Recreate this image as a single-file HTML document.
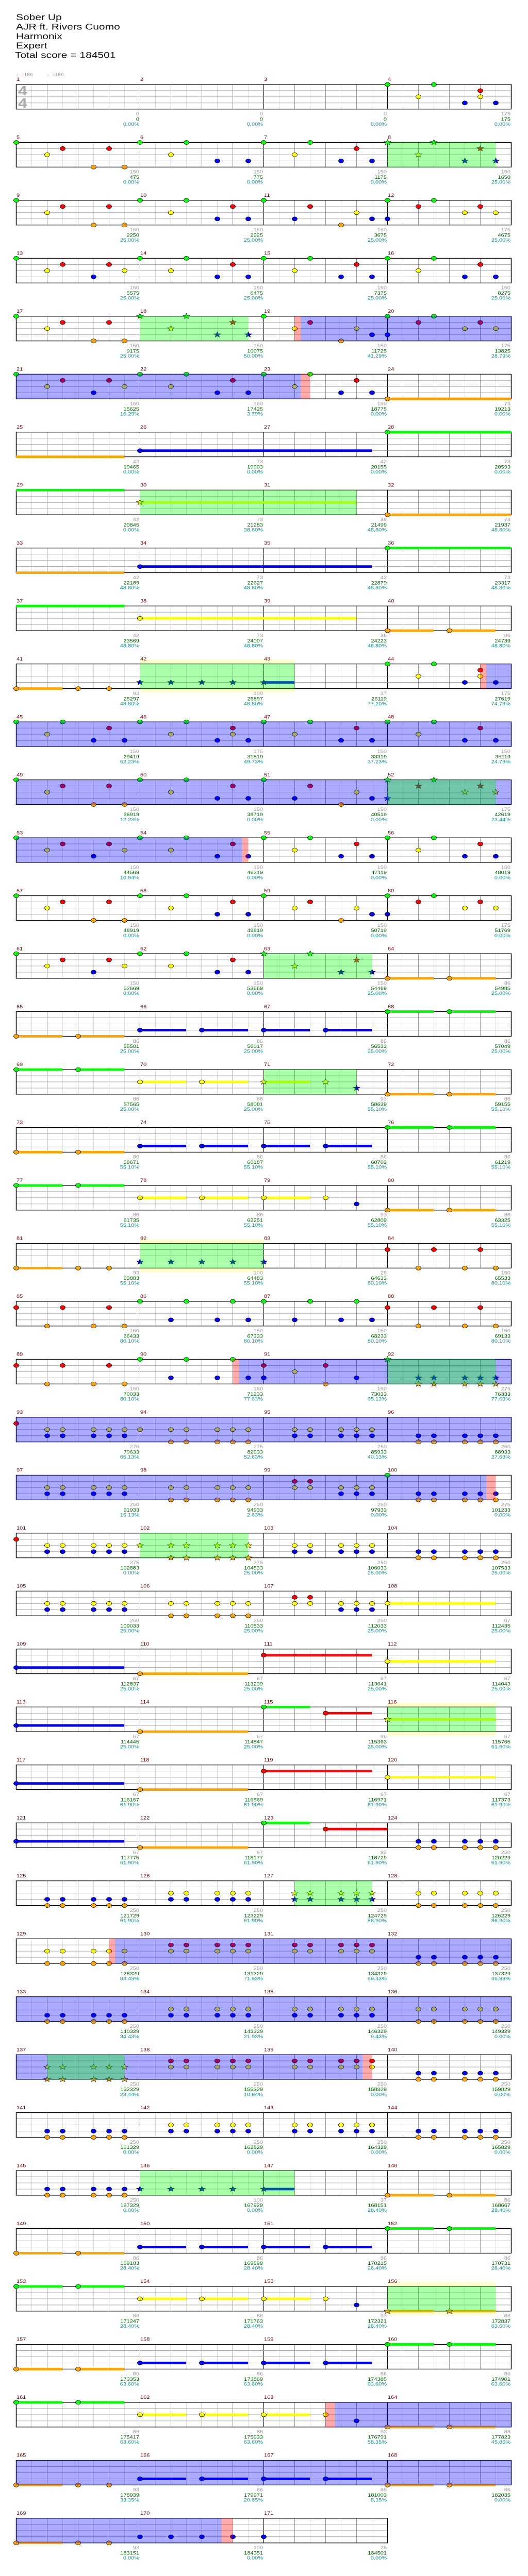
<!DOCTYPE html>
<html><head><meta charset="utf-8"><style>
html,body{margin:0;padding:0;background:#fff;width:100%;height:100%;overflow:hidden}
svg{position:absolute;left:0;top:0;width:100vw;height:100vh;display:block}
text{font-family:"Liberation Sans",sans-serif;font-size:11px}
.n{fill:#800000}.a{fill:#999;text-anchor:end}.b{fill:#006400;text-anchor:end}.c{fill:#009999;text-anchor:end}
.h{font-size:21px;fill:#111}
</style></head><body>
<svg id="s" xmlns="http://www.w3.org/2000/svg" viewBox="0 0 1024 6268" preserveAspectRatio="none">
<rect width="1024" height="6268" fill="#fff"/>
<text class="h" x="31" y="49">Sober Up</text>
<text class="h" x="31" y="72">AJR ft. Rivers Cuomo</text>
<text class="h" x="31" y="95">Harmonix</text>
<text class="h" x="31" y="118">Expert</text>
<text class="h" x="29" y="141">Total score = 184501</text>
<text x="31" y="185" style="fill:#999;font-size:10px">♩=186</text>
<text x="91" y="185" style="fill:#999;font-size:10px">♩=186</text>
<g id="shapes"></g>
<text x="35" y="232" style="fill:#aaa;font-size:32px;font-weight:bold">4</text>
<text x="35" y="262" style="fill:#aaa;font-size:32px;font-weight:bold">4</text>
<g transform="translate(0,205)"><text class="n" x="32" y="-8">1</text><text class="n" x="272" y="-8">2</text><text class="n" x="512" y="-8">3</text><text class="n" x="752" y="-8">4</text><text class="a" x="270" y="76">0</text><text class="b" x="270" y="89">0</text><text class="c" x="270" y="101">0.00%</text><text class="a" x="510" y="76">0</text><text class="b" x="510" y="89">0</text><text class="c" x="510" y="101">0.00%</text><text class="a" x="750" y="76">0</text><text class="b" x="750" y="89">0</text><text class="c" x="750" y="101">0.00%</text><text class="a" x="990" y="76">175</text><text class="b" x="990" y="89">175</text><text class="c" x="990" y="101">0.00%</text></g>
<g transform="translate(0,346)"><text class="n" x="32" y="-8">5</text><text class="n" x="272" y="-8">6</text><text class="n" x="512" y="-8">7</text><text class="n" x="752" y="-8">8</text><text class="a" x="270" y="76">150</text><text class="b" x="270" y="89">475</text><text class="c" x="270" y="101">0.00%</text><text class="a" x="510" y="76">150</text><text class="b" x="510" y="89">775</text><text class="c" x="510" y="101">0.00%</text><text class="a" x="750" y="76">150</text><text class="b" x="750" y="89">1175</text><text class="c" x="750" y="101">0.00%</text><text class="a" x="990" y="76">150</text><text class="b" x="990" y="89">1650</text><text class="c" x="990" y="101">25.00%</text></g>
<g transform="translate(0,487)"><text class="n" x="32" y="-8">9</text><text class="n" x="272" y="-8">10</text><text class="n" x="512" y="-8">11</text><text class="n" x="752" y="-8">12</text><text class="a" x="270" y="76">150</text><text class="b" x="270" y="89">2250</text><text class="c" x="270" y="101">25.00%</text><text class="a" x="510" y="76">150</text><text class="b" x="510" y="89">2925</text><text class="c" x="510" y="101">25.00%</text><text class="a" x="750" y="76">150</text><text class="b" x="750" y="89">3675</text><text class="c" x="750" y="101">25.00%</text><text class="a" x="990" y="76">175</text><text class="b" x="990" y="89">4675</text><text class="c" x="990" y="101">25.00%</text></g>
<g transform="translate(0,628)"><text class="n" x="32" y="-8">13</text><text class="n" x="272" y="-8">14</text><text class="n" x="512" y="-8">15</text><text class="n" x="752" y="-8">16</text><text class="a" x="270" y="76">150</text><text class="b" x="270" y="89">5575</text><text class="c" x="270" y="101">25.00%</text><text class="a" x="510" y="76">150</text><text class="b" x="510" y="89">6475</text><text class="c" x="510" y="101">25.00%</text><text class="a" x="750" y="76">150</text><text class="b" x="750" y="89">7375</text><text class="c" x="750" y="101">25.00%</text><text class="a" x="990" y="76">150</text><text class="b" x="990" y="89">8275</text><text class="c" x="990" y="101">25.00%</text></g>
<g transform="translate(0,769)"><text class="n" x="32" y="-8">17</text><text class="n" x="272" y="-8">18</text><text class="n" x="512" y="-8">19</text><text class="n" x="752" y="-8">20</text><text class="a" x="270" y="76">150</text><text class="b" x="270" y="89">9175</text><text class="c" x="270" y="101">25.00%</text><text class="a" x="510" y="76">150</text><text class="b" x="510" y="89">10075</text><text class="c" x="510" y="101">50.00%</text><text class="a" x="750" y="76">150</text><text class="b" x="750" y="89">11725</text><text class="c" x="750" y="101">41.29%</text><text class="a" x="990" y="76">175</text><text class="b" x="990" y="89">13825</text><text class="c" x="990" y="101">28.79%</text></g>
<g transform="translate(0,910)"><text class="n" x="32" y="-8">21</text><text class="n" x="272" y="-8">22</text><text class="n" x="512" y="-8">23</text><text class="n" x="752" y="-8">24</text><text class="a" x="270" y="76">150</text><text class="b" x="270" y="89">15625</text><text class="c" x="270" y="101">16.29%</text><text class="a" x="510" y="76">150</text><text class="b" x="510" y="89">17425</text><text class="c" x="510" y="101">3.79%</text><text class="a" x="750" y="76">150</text><text class="b" x="750" y="89">18775</text><text class="c" x="750" y="101">0.00%</text><text class="a" x="990" y="76">73</text><text class="b" x="990" y="89">19213</text><text class="c" x="990" y="101">0.00%</text></g>
<g transform="translate(0,1051)"><text class="n" x="32" y="-8">25</text><text class="n" x="272" y="-8">26</text><text class="n" x="512" y="-8">27</text><text class="n" x="752" y="-8">28</text><text class="a" x="270" y="76">42</text><text class="b" x="270" y="89">19465</text><text class="c" x="270" y="101">0.00%</text><text class="a" x="510" y="76">73</text><text class="b" x="510" y="89">19903</text><text class="c" x="510" y="101">0.00%</text><text class="a" x="750" y="76">42</text><text class="b" x="750" y="89">20155</text><text class="c" x="750" y="101">0.00%</text><text class="a" x="990" y="76">73</text><text class="b" x="990" y="89">20593</text><text class="c" x="990" y="101">0.00%</text></g>
<g transform="translate(0,1192)"><text class="n" x="32" y="-8">29</text><text class="n" x="272" y="-8">30</text><text class="n" x="512" y="-8">31</text><text class="n" x="752" y="-8">32</text><text class="a" x="270" y="76">42</text><text class="b" x="270" y="89">20845</text><text class="c" x="270" y="101">0.00%</text><text class="a" x="510" y="76">73</text><text class="b" x="510" y="89">21283</text><text class="c" x="510" y="101">38.60%</text><text class="a" x="750" y="76">36</text><text class="b" x="750" y="89">21499</text><text class="c" x="750" y="101">48.80%</text><text class="a" x="990" y="76">73</text><text class="b" x="990" y="89">21937</text><text class="c" x="990" y="101">48.80%</text></g>
<g transform="translate(0,1333)"><text class="n" x="32" y="-8">33</text><text class="n" x="272" y="-8">34</text><text class="n" x="512" y="-8">35</text><text class="n" x="752" y="-8">36</text><text class="a" x="270" y="76">42</text><text class="b" x="270" y="89">22189</text><text class="c" x="270" y="101">48.80%</text><text class="a" x="510" y="76">73</text><text class="b" x="510" y="89">22627</text><text class="c" x="510" y="101">48.80%</text><text class="a" x="750" y="76">42</text><text class="b" x="750" y="89">22879</text><text class="c" x="750" y="101">48.80%</text><text class="a" x="990" y="76">73</text><text class="b" x="990" y="89">23317</text><text class="c" x="990" y="101">48.80%</text></g>
<g transform="translate(0,1474)"><text class="n" x="32" y="-8">37</text><text class="n" x="272" y="-8">38</text><text class="n" x="512" y="-8">39</text><text class="n" x="752" y="-8">40</text><text class="a" x="270" y="76">42</text><text class="b" x="270" y="89">23569</text><text class="c" x="270" y="101">48.80%</text><text class="a" x="510" y="76">73</text><text class="b" x="510" y="89">24007</text><text class="c" x="510" y="101">48.80%</text><text class="a" x="750" y="76">36</text><text class="b" x="750" y="89">24223</text><text class="c" x="750" y="101">48.80%</text><text class="a" x="990" y="76">86</text><text class="b" x="990" y="89">24739</text><text class="c" x="990" y="101">48.80%</text></g>
<g transform="translate(0,1615)"><text class="n" x="32" y="-8">41</text><text class="n" x="272" y="-8">42</text><text class="n" x="512" y="-8">43</text><text class="n" x="752" y="-8">44</text><text class="a" x="270" y="76">93</text><text class="b" x="270" y="89">25297</text><text class="c" x="270" y="101">48.80%</text><text class="a" x="510" y="76">100</text><text class="b" x="510" y="89">25897</text><text class="c" x="510" y="101">48.80%</text><text class="a" x="750" y="76">37</text><text class="b" x="750" y="89">26119</text><text class="c" x="750" y="101">77.20%</text><text class="a" x="990" y="76">175</text><text class="b" x="990" y="89">27619</text><text class="c" x="990" y="101">74.73%</text></g>
<g transform="translate(0,1756)"><text class="n" x="32" y="-8">45</text><text class="n" x="272" y="-8">46</text><text class="n" x="512" y="-8">47</text><text class="n" x="752" y="-8">48</text><text class="a" x="270" y="76">150</text><text class="b" x="270" y="89">29419</text><text class="c" x="270" y="101">62.23%</text><text class="a" x="510" y="76">175</text><text class="b" x="510" y="89">31519</text><text class="c" x="510" y="101">49.73%</text><text class="a" x="750" y="76">150</text><text class="b" x="750" y="89">33319</text><text class="c" x="750" y="101">37.23%</text><text class="a" x="990" y="76">150</text><text class="b" x="990" y="89">35119</text><text class="c" x="990" y="101">24.73%</text></g>
<g transform="translate(0,1897)"><text class="n" x="32" y="-8">49</text><text class="n" x="272" y="-8">50</text><text class="n" x="512" y="-8">51</text><text class="n" x="752" y="-8">52</text><text class="a" x="270" y="76">150</text><text class="b" x="270" y="89">36919</text><text class="c" x="270" y="101">12.23%</text><text class="a" x="510" y="76">150</text><text class="b" x="510" y="89">38719</text><text class="c" x="510" y="101">0.00%</text><text class="a" x="750" y="76">150</text><text class="b" x="750" y="89">40519</text><text class="c" x="750" y="101">0.00%</text><text class="a" x="990" y="76">175</text><text class="b" x="990" y="89">42619</text><text class="c" x="990" y="101">23.44%</text></g>
<g transform="translate(0,2038)"><text class="n" x="32" y="-8">53</text><text class="n" x="272" y="-8">54</text><text class="n" x="512" y="-8">55</text><text class="n" x="752" y="-8">56</text><text class="a" x="270" y="76">150</text><text class="b" x="270" y="89">44569</text><text class="c" x="270" y="101">10.94%</text><text class="a" x="510" y="76">150</text><text class="b" x="510" y="89">46219</text><text class="c" x="510" y="101">0.00%</text><text class="a" x="750" y="76">150</text><text class="b" x="750" y="89">47119</text><text class="c" x="750" y="101">0.00%</text><text class="a" x="990" y="76">150</text><text class="b" x="990" y="89">48019</text><text class="c" x="990" y="101">0.00%</text></g>
<g transform="translate(0,2179)"><text class="n" x="32" y="-8">57</text><text class="n" x="272" y="-8">58</text><text class="n" x="512" y="-8">59</text><text class="n" x="752" y="-8">60</text><text class="a" x="270" y="76">150</text><text class="b" x="270" y="89">48919</text><text class="c" x="270" y="101">0.00%</text><text class="a" x="510" y="76">150</text><text class="b" x="510" y="89">49819</text><text class="c" x="510" y="101">0.00%</text><text class="a" x="750" y="76">150</text><text class="b" x="750" y="89">50719</text><text class="c" x="750" y="101">0.00%</text><text class="a" x="990" y="76">175</text><text class="b" x="990" y="89">51769</text><text class="c" x="990" y="101">0.00%</text></g>
<g transform="translate(0,2320)"><text class="n" x="32" y="-8">61</text><text class="n" x="272" y="-8">62</text><text class="n" x="512" y="-8">63</text><text class="n" x="752" y="-8">64</text><text class="a" x="270" y="76">150</text><text class="b" x="270" y="89">52669</text><text class="c" x="270" y="101">0.00%</text><text class="a" x="510" y="76">150</text><text class="b" x="510" y="89">53569</text><text class="c" x="510" y="101">0.00%</text><text class="a" x="750" y="76">150</text><text class="b" x="750" y="89">54469</text><text class="c" x="750" y="101">25.00%</text><text class="a" x="990" y="76">86</text><text class="b" x="990" y="89">54985</text><text class="c" x="990" y="101">25.00%</text></g>
<g transform="translate(0,2461)"><text class="n" x="32" y="-8">65</text><text class="n" x="272" y="-8">66</text><text class="n" x="512" y="-8">67</text><text class="n" x="752" y="-8">68</text><text class="a" x="270" y="76">86</text><text class="b" x="270" y="89">55501</text><text class="c" x="270" y="101">25.00%</text><text class="a" x="510" y="76">86</text><text class="b" x="510" y="89">56017</text><text class="c" x="510" y="101">25.00%</text><text class="a" x="750" y="76">86</text><text class="b" x="750" y="89">56533</text><text class="c" x="750" y="101">25.00%</text><text class="a" x="990" y="76">86</text><text class="b" x="990" y="89">57049</text><text class="c" x="990" y="101">25.00%</text></g>
<g transform="translate(0,2602)"><text class="n" x="32" y="-8">69</text><text class="n" x="272" y="-8">70</text><text class="n" x="512" y="-8">71</text><text class="n" x="752" y="-8">72</text><text class="a" x="270" y="76">86</text><text class="b" x="270" y="89">57565</text><text class="c" x="270" y="101">25.00%</text><text class="a" x="510" y="76">86</text><text class="b" x="510" y="89">58081</text><text class="c" x="510" y="101">25.00%</text><text class="a" x="750" y="76">93</text><text class="b" x="750" y="89">58639</text><text class="c" x="750" y="101">55.10%</text><text class="a" x="990" y="76">86</text><text class="b" x="990" y="89">59155</text><text class="c" x="990" y="101">55.10%</text></g>
<g transform="translate(0,2743)"><text class="n" x="32" y="-8">73</text><text class="n" x="272" y="-8">74</text><text class="n" x="512" y="-8">75</text><text class="n" x="752" y="-8">76</text><text class="a" x="270" y="76">86</text><text class="b" x="270" y="89">59671</text><text class="c" x="270" y="101">55.10%</text><text class="a" x="510" y="76">86</text><text class="b" x="510" y="89">60187</text><text class="c" x="510" y="101">55.10%</text><text class="a" x="750" y="76">86</text><text class="b" x="750" y="89">60703</text><text class="c" x="750" y="101">55.10%</text><text class="a" x="990" y="76">86</text><text class="b" x="990" y="89">61219</text><text class="c" x="990" y="101">55.10%</text></g>
<g transform="translate(0,2884)"><text class="n" x="32" y="-8">77</text><text class="n" x="272" y="-8">78</text><text class="n" x="512" y="-8">79</text><text class="n" x="752" y="-8">80</text><text class="a" x="270" y="76">86</text><text class="b" x="270" y="89">61735</text><text class="c" x="270" y="101">55.10%</text><text class="a" x="510" y="76">86</text><text class="b" x="510" y="89">62251</text><text class="c" x="510" y="101">55.10%</text><text class="a" x="750" y="76">93</text><text class="b" x="750" y="89">62809</text><text class="c" x="750" y="101">55.10%</text><text class="a" x="990" y="76">86</text><text class="b" x="990" y="89">63325</text><text class="c" x="990" y="101">55.10%</text></g>
<g transform="translate(0,3025)"><text class="n" x="32" y="-8">81</text><text class="n" x="272" y="-8">82</text><text class="n" x="512" y="-8">83</text><text class="n" x="752" y="-8">84</text><text class="a" x="270" y="76">93</text><text class="b" x="270" y="89">63883</text><text class="c" x="270" y="101">55.10%</text><text class="a" x="510" y="76">100</text><text class="b" x="510" y="89">64483</text><text class="c" x="510" y="101">55.10%</text><text class="a" x="750" y="76">25</text><text class="b" x="750" y="89">64633</text><text class="c" x="750" y="101">80.10%</text><text class="a" x="990" y="76">150</text><text class="b" x="990" y="89">65533</text><text class="c" x="990" y="101">80.10%</text></g>
<g transform="translate(0,3166)"><text class="n" x="32" y="-8">85</text><text class="n" x="272" y="-8">86</text><text class="n" x="512" y="-8">87</text><text class="n" x="752" y="-8">88</text><text class="a" x="270" y="76">150</text><text class="b" x="270" y="89">66433</text><text class="c" x="270" y="101">80.10%</text><text class="a" x="510" y="76">150</text><text class="b" x="510" y="89">67333</text><text class="c" x="510" y="101">80.10%</text><text class="a" x="750" y="76">150</text><text class="b" x="750" y="89">68233</text><text class="c" x="750" y="101">80.10%</text><text class="a" x="990" y="76">150</text><text class="b" x="990" y="89">69133</text><text class="c" x="990" y="101">80.10%</text></g>
<g transform="translate(0,3307)"><text class="n" x="32" y="-8">89</text><text class="n" x="272" y="-8">90</text><text class="n" x="512" y="-8">91</text><text class="n" x="752" y="-8">92</text><text class="a" x="270" y="76">150</text><text class="b" x="270" y="89">70033</text><text class="c" x="270" y="101">80.10%</text><text class="a" x="510" y="76">150</text><text class="b" x="510" y="89">71233</text><text class="c" x="510" y="101">77.63%</text><text class="a" x="750" y="76">150</text><text class="b" x="750" y="89">73033</text><text class="c" x="750" y="101">65.13%</text><text class="a" x="990" y="76">275</text><text class="b" x="990" y="89">76333</text><text class="c" x="990" y="101">77.63%</text></g>
<g transform="translate(0,3448)"><text class="n" x="32" y="-8">93</text><text class="n" x="272" y="-8">94</text><text class="n" x="512" y="-8">95</text><text class="n" x="752" y="-8">96</text><text class="a" x="270" y="76">275</text><text class="b" x="270" y="89">79633</text><text class="c" x="270" y="101">65.13%</text><text class="a" x="510" y="76">275</text><text class="b" x="510" y="89">82933</text><text class="c" x="510" y="101">52.63%</text><text class="a" x="750" y="76">250</text><text class="b" x="750" y="89">85933</text><text class="c" x="750" y="101">40.13%</text><text class="a" x="990" y="76">250</text><text class="b" x="990" y="89">88933</text><text class="c" x="990" y="101">27.63%</text></g>
<g transform="translate(0,3589)"><text class="n" x="32" y="-8">97</text><text class="n" x="272" y="-8">98</text><text class="n" x="512" y="-8">99</text><text class="n" x="752" y="-8">100</text><text class="a" x="270" y="76">250</text><text class="b" x="270" y="89">91933</text><text class="c" x="270" y="101">15.13%</text><text class="a" x="510" y="76">250</text><text class="b" x="510" y="89">94933</text><text class="c" x="510" y="101">2.63%</text><text class="a" x="750" y="76">250</text><text class="b" x="750" y="89">97933</text><text class="c" x="750" y="101">0.00%</text><text class="a" x="990" y="76">275</text><text class="b" x="990" y="89">101233</text><text class="c" x="990" y="101">0.00%</text></g>
<g transform="translate(0,3730)"><text class="n" x="32" y="-8">101</text><text class="n" x="272" y="-8">102</text><text class="n" x="512" y="-8">103</text><text class="n" x="752" y="-8">104</text><text class="a" x="270" y="76">275</text><text class="b" x="270" y="89">102883</text><text class="c" x="270" y="101">0.00%</text><text class="a" x="510" y="76">275</text><text class="b" x="510" y="89">104533</text><text class="c" x="510" y="101">25.00%</text><text class="a" x="750" y="76">250</text><text class="b" x="750" y="89">106033</text><text class="c" x="750" y="101">25.00%</text><text class="a" x="990" y="76">250</text><text class="b" x="990" y="89">107533</text><text class="c" x="990" y="101">25.00%</text></g>
<g transform="translate(0,3871)"><text class="n" x="32" y="-8">105</text><text class="n" x="272" y="-8">106</text><text class="n" x="512" y="-8">107</text><text class="n" x="752" y="-8">108</text><text class="a" x="270" y="76">250</text><text class="b" x="270" y="89">109033</text><text class="c" x="270" y="101">25.00%</text><text class="a" x="510" y="76">250</text><text class="b" x="510" y="89">110533</text><text class="c" x="510" y="101">25.00%</text><text class="a" x="750" y="76">250</text><text class="b" x="750" y="89">112033</text><text class="c" x="750" y="101">25.00%</text><text class="a" x="990" y="76">67</text><text class="b" x="990" y="89">112435</text><text class="c" x="990" y="101">25.00%</text></g>
<g transform="translate(0,4012)"><text class="n" x="32" y="-8">109</text><text class="n" x="272" y="-8">110</text><text class="n" x="512" y="-8">111</text><text class="n" x="752" y="-8">112</text><text class="a" x="270" y="76">67</text><text class="b" x="270" y="89">112837</text><text class="c" x="270" y="101">25.00%</text><text class="a" x="510" y="76">67</text><text class="b" x="510" y="89">113239</text><text class="c" x="510" y="101">25.00%</text><text class="a" x="750" y="76">67</text><text class="b" x="750" y="89">113641</text><text class="c" x="750" y="101">25.00%</text><text class="a" x="990" y="76">67</text><text class="b" x="990" y="89">114043</text><text class="c" x="990" y="101">25.00%</text></g>
<g transform="translate(0,4153)"><text class="n" x="32" y="-8">113</text><text class="n" x="272" y="-8">114</text><text class="n" x="512" y="-8">115</text><text class="n" x="752" y="-8">116</text><text class="a" x="270" y="76">67</text><text class="b" x="270" y="89">114445</text><text class="c" x="270" y="101">25.00%</text><text class="a" x="510" y="76">67</text><text class="b" x="510" y="89">114847</text><text class="c" x="510" y="101">25.00%</text><text class="a" x="750" y="76">86</text><text class="b" x="750" y="89">115363</text><text class="c" x="750" y="101">25.00%</text><text class="a" x="990" y="76">67</text><text class="b" x="990" y="89">115765</text><text class="c" x="990" y="101">61.90%</text></g>
<g transform="translate(0,4294)"><text class="n" x="32" y="-8">117</text><text class="n" x="272" y="-8">118</text><text class="n" x="512" y="-8">119</text><text class="n" x="752" y="-8">120</text><text class="a" x="270" y="76">67</text><text class="b" x="270" y="89">116167</text><text class="c" x="270" y="101">61.90%</text><text class="a" x="510" y="76">67</text><text class="b" x="510" y="89">116569</text><text class="c" x="510" y="101">61.90%</text><text class="a" x="750" y="76">67</text><text class="b" x="750" y="89">116971</text><text class="c" x="750" y="101">61.90%</text><text class="a" x="990" y="76">67</text><text class="b" x="990" y="89">117373</text><text class="c" x="990" y="101">61.90%</text></g>
<g transform="translate(0,4435)"><text class="n" x="32" y="-8">121</text><text class="n" x="272" y="-8">122</text><text class="n" x="512" y="-8">123</text><text class="n" x="752" y="-8">124</text><text class="a" x="270" y="76">67</text><text class="b" x="270" y="89">117775</text><text class="c" x="270" y="101">61.90%</text><text class="a" x="510" y="76">67</text><text class="b" x="510" y="89">118177</text><text class="c" x="510" y="101">61.90%</text><text class="a" x="750" y="76">92</text><text class="b" x="750" y="89">118729</text><text class="c" x="750" y="101">61.90%</text><text class="a" x="990" y="76">250</text><text class="b" x="990" y="89">120229</text><text class="c" x="990" y="101">61.90%</text></g>
<g transform="translate(0,4576)"><text class="n" x="32" y="-8">125</text><text class="n" x="272" y="-8">126</text><text class="n" x="512" y="-8">127</text><text class="n" x="752" y="-8">128</text><text class="a" x="270" y="76">250</text><text class="b" x="270" y="89">121729</text><text class="c" x="270" y="101">61.90%</text><text class="a" x="510" y="76">250</text><text class="b" x="510" y="89">123229</text><text class="c" x="510" y="101">61.90%</text><text class="a" x="750" y="76">250</text><text class="b" x="750" y="89">124729</text><text class="c" x="750" y="101">86.90%</text><text class="a" x="990" y="76">250</text><text class="b" x="990" y="89">126229</text><text class="c" x="990" y="101">86.90%</text></g>
<g transform="translate(0,4717)"><text class="n" x="32" y="-8">129</text><text class="n" x="272" y="-8">130</text><text class="n" x="512" y="-8">131</text><text class="n" x="752" y="-8">132</text><text class="a" x="270" y="76">250</text><text class="b" x="270" y="89">128329</text><text class="c" x="270" y="101">84.43%</text><text class="a" x="510" y="76">250</text><text class="b" x="510" y="89">131329</text><text class="c" x="510" y="101">71.93%</text><text class="a" x="750" y="76">250</text><text class="b" x="750" y="89">134329</text><text class="c" x="750" y="101">59.43%</text><text class="a" x="990" y="76">250</text><text class="b" x="990" y="89">137329</text><text class="c" x="990" y="101">46.93%</text></g>
<g transform="translate(0,4858)"><text class="n" x="32" y="-8">133</text><text class="n" x="272" y="-8">134</text><text class="n" x="512" y="-8">135</text><text class="n" x="752" y="-8">136</text><text class="a" x="270" y="76">250</text><text class="b" x="270" y="89">140329</text><text class="c" x="270" y="101">34.43%</text><text class="a" x="510" y="76">250</text><text class="b" x="510" y="89">143329</text><text class="c" x="510" y="101">21.93%</text><text class="a" x="750" y="76">250</text><text class="b" x="750" y="89">146329</text><text class="c" x="750" y="101">9.43%</text><text class="a" x="990" y="76">250</text><text class="b" x="990" y="89">149329</text><text class="c" x="990" y="101">0.00%</text></g>
<g transform="translate(0,4999)"><text class="n" x="32" y="-8">137</text><text class="n" x="272" y="-8">138</text><text class="n" x="512" y="-8">139</text><text class="n" x="752" y="-8">140</text><text class="a" x="270" y="76">250</text><text class="b" x="270" y="89">152329</text><text class="c" x="270" y="101">23.44%</text><text class="a" x="510" y="76">250</text><text class="b" x="510" y="89">155329</text><text class="c" x="510" y="101">10.94%</text><text class="a" x="750" y="76">250</text><text class="b" x="750" y="89">158329</text><text class="c" x="750" y="101">0.00%</text><text class="a" x="990" y="76">250</text><text class="b" x="990" y="89">159829</text><text class="c" x="990" y="101">0.00%</text></g>
<g transform="translate(0,5140)"><text class="n" x="32" y="-8">141</text><text class="n" x="272" y="-8">142</text><text class="n" x="512" y="-8">143</text><text class="n" x="752" y="-8">144</text><text class="a" x="270" y="76">250</text><text class="b" x="270" y="89">161329</text><text class="c" x="270" y="101">0.00%</text><text class="a" x="510" y="76">250</text><text class="b" x="510" y="89">162829</text><text class="c" x="510" y="101">0.00%</text><text class="a" x="750" y="76">250</text><text class="b" x="750" y="89">164329</text><text class="c" x="750" y="101">0.00%</text><text class="a" x="990" y="76">250</text><text class="b" x="990" y="89">165829</text><text class="c" x="990" y="101">0.00%</text></g>
<g transform="translate(0,5281)"><text class="n" x="32" y="-8">145</text><text class="n" x="272" y="-8">146</text><text class="n" x="512" y="-8">147</text><text class="n" x="752" y="-8">148</text><text class="a" x="270" y="76">250</text><text class="b" x="270" y="89">167329</text><text class="c" x="270" y="101">0.00%</text><text class="a" x="510" y="76">100</text><text class="b" x="510" y="89">167929</text><text class="c" x="510" y="101">0.00%</text><text class="a" x="750" y="76">37</text><text class="b" x="750" y="89">168151</text><text class="c" x="750" y="101">28.40%</text><text class="a" x="990" y="76">86</text><text class="b" x="990" y="89">168667</text><text class="c" x="990" y="101">28.40%</text></g>
<g transform="translate(0,5422)"><text class="n" x="32" y="-8">149</text><text class="n" x="272" y="-8">150</text><text class="n" x="512" y="-8">151</text><text class="n" x="752" y="-8">152</text><text class="a" x="270" y="76">86</text><text class="b" x="270" y="89">169183</text><text class="c" x="270" y="101">28.40%</text><text class="a" x="510" y="76">86</text><text class="b" x="510" y="89">169699</text><text class="c" x="510" y="101">28.40%</text><text class="a" x="750" y="76">86</text><text class="b" x="750" y="89">170215</text><text class="c" x="750" y="101">28.40%</text><text class="a" x="990" y="76">86</text><text class="b" x="990" y="89">170731</text><text class="c" x="990" y="101">28.40%</text></g>
<g transform="translate(0,5563)"><text class="n" x="32" y="-8">153</text><text class="n" x="272" y="-8">154</text><text class="n" x="512" y="-8">155</text><text class="n" x="752" y="-8">156</text><text class="a" x="270" y="76">86</text><text class="b" x="270" y="89">171247</text><text class="c" x="270" y="101">28.40%</text><text class="a" x="510" y="76">86</text><text class="b" x="510" y="89">171763</text><text class="c" x="510" y="101">28.40%</text><text class="a" x="750" y="76">93</text><text class="b" x="750" y="89">172321</text><text class="c" x="750" y="101">28.40%</text><text class="a" x="990" y="76">86</text><text class="b" x="990" y="89">172837</text><text class="c" x="990" y="101">63.60%</text></g>
<g transform="translate(0,5704)"><text class="n" x="32" y="-8">157</text><text class="n" x="272" y="-8">158</text><text class="n" x="512" y="-8">159</text><text class="n" x="752" y="-8">160</text><text class="a" x="270" y="76">86</text><text class="b" x="270" y="89">173353</text><text class="c" x="270" y="101">63.60%</text><text class="a" x="510" y="76">86</text><text class="b" x="510" y="89">173869</text><text class="c" x="510" y="101">63.60%</text><text class="a" x="750" y="76">86</text><text class="b" x="750" y="89">174385</text><text class="c" x="750" y="101">63.60%</text><text class="a" x="990" y="76">86</text><text class="b" x="990" y="89">174901</text><text class="c" x="990" y="101">63.60%</text></g>
<g transform="translate(0,5845)"><text class="n" x="32" y="-8">161</text><text class="n" x="272" y="-8">162</text><text class="n" x="512" y="-8">163</text><text class="n" x="752" y="-8">164</text><text class="a" x="270" y="76">86</text><text class="b" x="270" y="89">175417</text><text class="c" x="270" y="101">63.60%</text><text class="a" x="510" y="76">86</text><text class="b" x="510" y="89">175933</text><text class="c" x="510" y="101">63.60%</text><text class="a" x="750" y="76">93</text><text class="b" x="750" y="89">176791</text><text class="c" x="750" y="101">58.35%</text><text class="a" x="990" y="76">86</text><text class="b" x="990" y="89">177823</text><text class="c" x="990" y="101">45.85%</text></g>
<g transform="translate(0,5986)"><text class="n" x="32" y="-8">165</text><text class="n" x="272" y="-8">166</text><text class="n" x="512" y="-8">167</text><text class="n" x="752" y="-8">168</text><text class="a" x="270" y="76">93</text><text class="b" x="270" y="89">178939</text><text class="c" x="270" y="101">33.35%</text><text class="a" x="510" y="76">86</text><text class="b" x="510" y="89">179971</text><text class="c" x="510" y="101">20.85%</text><text class="a" x="750" y="76">86</text><text class="b" x="750" y="89">181003</text><text class="c" x="750" y="101">8.35%</text><text class="a" x="990" y="76">86</text><text class="b" x="990" y="89">182035</text><text class="c" x="990" y="101">0.00%</text></g>
<g transform="translate(0,6127)"><text class="n" x="32" y="-8">169</text><text class="n" x="272" y="-8">170</text><text class="n" x="512" y="-8">171</text><text class="a" x="270" y="76">93</text><text class="b" x="270" y="89">183151</text><text class="c" x="270" y="101">0.00%</text><text class="a" x="510" y="76">100</text><text class="b" x="510" y="89">184351</text><text class="c" x="510" y="101">0.00%</text><text class="a" x="750" y="76">25</text><text class="b" x="750" y="89">184501</text><text class="c" x="750" y="101">0.00%</text></g>
</svg>
<script>
var S17="o0,4 b8,12,16,20 g24,28||o0-3 o4-7 b8-11 b12-15 b16-19 b20-23 g24-27 g28-31|";
var rows=[
"g24,27 y26,30 r30 b29,31|||",
"g0,8,11 r3,6,22 y2,10,18 b13,15,21,23 o5,7 g16,19|G24,27 Y26 R30 B29,31||G24-31",
"g0,8,11,16,24,27 r3,6,14,19,26,30 y2,10,22,29,31 b13,15,18,23,24 o5,7,21|||",
"g0,8,11,16,19,24,27 r3,6,14,22,30 y2,7,10,18,26 b5,13,15,21,23,29,31|||",
"g0,16,24,27 r3,6,19,26,30 y2,18,22,29,31 b23,24 o5,7,21|G8,11 Y10 R14 B13,15||G8-15 R18-18.4 B18.4-32",
"g0,8,11,16,19 r3,6,14,22 y2,7,10,18 b5,13,15,21,23 o24||o24-32|B0-18.4 R18.4-19",
"b8 g24||o0-7 b8-23 g24-32|",
"o24|Y8|g0-7 y8-22 o24-32|G8-22",
"b8 g24||o0-7 b8-23 g24-32|",
"y8 o24,28||g0-7 y8-22 o24-27 o28-31|",
"o0,4,6 g24,27 y26,30 r30 b29,31|B8,10,12,14,16|o0-3 b16-18|P8-18 G8-18 R30-30.4 B30.4-32",
"g0,3,8,11,16,19,24,27 r6,14,22,30 y2,10,14,18,26 b5,7,13,15,21,23,29,31|||B0-32",
"g0,8,11,16 r3,6,14,19 y2,10,22 b13,15,18,23 o5,7,21|G24,27 R26,30 Y29,31 B24||B0-32 G24-31",
"g0,8,11,16,19,24,27 r3,6,14,22,30 y2,7,10,18,26 b5,13,15,21,23,29,31|||B0-14.6 R14.6-15",
"g0,8,11,16,24,27 r3,6,14,19,26,30 y2,10,18,22,29,31 b13,15,23,24 o5,7,21|||",
"g0,8,11 r3,6,14 y2,7,10 b5,13,15 o24,28|G16,19 Y18 R22 B21,23|o24-27 o28-31|G16-23",
S17,
"g0,4 y8,12 o24,28|Y16,20 B22|g0-3 g4-7 y8-11 y12-15 y16-19 o24-27 o28-31|G16-22",
S17,
"g0,4 y8,12,16,20 b22 o24,28||g0-3 g4-7 y8-11 y12-15 y16-19 o24-27 o28-31|",
"o0,4,6 r24,27,30 o26,29,31|B8,10,12,14,16|o0-3|P8-16 G8-16",
"r0,3,6,24,27,30 o2,5,7,26,29,31 g8,11,14,16,19,22 b10,13,15,18,21,23|||",
"r0,3,6,16,20 o2,5,7,20 g8,11,14 b10,13,15,16,22 y18|G24 B26,27,29,30,31 O26,27,29,30,31||R14-14.4 B14.4-32 G24-31",
"r0 y2,3,5,6,7,8,10,11,13,14,15,18,19,21,22,23 b2,3,5,6,7,18,19,21,22,23,26,27,29,30,31 o10,11,13,14,15,26,27,29,30,31|||B0-32",
"y2,3,5,6,7,10,11,13,14,15,18,19,21,22,23 b2,3,5,6,7,21,22,23,26,27,29,30,31 o10,11,13,14,15,26,27,29,30,31 r18,19 g24|||B0-30.4 R30.4-31",
"r0 y2,3,5,6,7,18,19,21,22,23 b2,3,5,6,7,18,19,21,22,23,26,27,29,30,31 o26,27,29,30,31|Y8,10,11,13,14,15 O10,11,13,14,15||G8-15",
"y2,3,5,6,7,10,11,13,14,15,18,19,21,22,23,24 b2,3,5,6,7,21,22,23 o10,11,13,14,15 r18,19||y24-31|",
"b0 o8 r16 y24||b0-7 o8-15 r16-23 y24-31|",
"b0 o8 g16 r20|Y24|b0-7 o8-15 g16-19 r20-23 y24-31|P24-31 G24-31",
"b0 o8 r16 y24||b0-7 o8-15 r16-23 y24-31|",
"b0,26,27,29,30,31 o8,26,27,29,30,31 g16 r20||b0-7 o8-15 g16-19 r20-24|",
"b2,3,5,6,7,10,11,13,14,15 o2,3,5,6,7,26,27,29,30,31 y10,11,13,14,15,26,27,29,30,31|Y18,19,21,22,23 B18,19,21,22,23||G18-23",
"y2,3,5,6,7,10,11,13,14,15,18,19,21,22,23 o2,3,5,6,7,26,27,29,30,31 r10,11,13,14,15,18,19,21,22,23 b26,27,29,30,31|||R6-6.4 B6.4-32",
"b2,3,5,6,7,10,11,13,14,15,18,19,21,22,23 o2,3,5,6,7,26,27,29,30,31 y10,11,13,14,15,18,19,21,22,23,26,27,29,30,31|||B0-32",
"r10,11,13,14,15,18,19,21,22,23 y10,11,13,14,15,18,19,21,22,23 b26,27,29,30,31 o26,27,29,30,31|Y2,3,5,6,7 O2,3,5,6,7||B0-22.4 R22.4-23 G2-7",
"b2,3,5,6,7,10,11,13,14,15,18,19,21,22,23,26,27,29,30,31 o2,3,5,6,7,26,27,29,30,31 y10,11,13,14,15,18,19,21,22,23|||",
"b2,3,5,6,7 o2,3,5,6,7,24,28|B8,10,12,14,16|b16-18 o24-27 o28-31|G8-18",
S17,
"g0,4 y8,12,16,20 b22|O24,28|g0-3 g4-7 y8-11 y12-15 y16-19 o24-27 o28-31|P24-31 G24-31",
S17,
"g0,4 y8,12,16,20 b22 o24,28||g0-3 g4-7 y8-11 y12-15 y16-19 o24-27 o28-31|R20-20.6 B20.6-32",
"o0,4,6,24,28 b8,12,16,20||o0-3 b8-11 b12-15 b16-19 b20-23 o24-27 o28-31|B0-32",
"o0,4,6 b8,10,12,14,16||o0-3|B0-13.3 R13.3-14"
];
var X0=31,U=30,C={g:'#00ff00',r:'#ff0000',y:'#ffff00',b:'#0000ff',o:'#ffa500'},L={g:0,r:1,y:2,b:3,o:4};
function tok(s){return s.split(' ').filter(function(t){return t.length>0;});}
function star(cx,cy,col){var p=[];for(var i=0;i<10;i++){var a=-Math.PI/2+i*Math.PI/5,rr=i%2?3:7;p.push((cx+rr*Math.cos(a)).toFixed(1)+','+(cy+rr*Math.sin(a)).toFixed(1));}return '<polygon points="'+p.join(' ')+'" fill="'+col+'" stroke="#000" stroke-width=".7"/>';}
var h='';
rows.forEach(function(s,r){
 var T=205+141*r,W=(r==42)?24:32,parts=s.split('|');
 var over='';
 tok(parts[3]).forEach(function(t){var k=t[0],ab=t.slice(1).split('-').map(Number),x=X0+ab[0]*U,w=(ab[1]-ab[0])*U;
  if(k=='P')h+='<rect x="'+x+'" y="'+(T-10)+'" width="'+w+'" height="80" fill="#ffffcc"/>';
  else over+='<rect x="'+x+'" y="'+T+'" width="'+w+'" height="61" fill="'+({G:'#00ff00',B:'#0000ff',R:'#ff0000'})[k]+'" fill-opacity=".333"/>';});
 h+='<rect x="'+X0+'" y="'+T+'" width="'+(W*U)+'" height="60" fill="#fff"/>';
 for(var i=1;i<W;i++){var x=X0+i*U+.5,c=(i%8==0)?'#000':(i%2==0)?'#999':'#ddd';h+='<line x1="'+x+'" y1="'+T+'" x2="'+x+'" y2="'+(T+60)+'" stroke="'+c+'"/>';}
 for(var j=1;j<4;j++){h+='<line x1="'+X0+'" y1="'+(T+15*j+.5)+'" x2="'+(X0+W*U)+'" y2="'+(T+15*j+.5)+'" stroke="#999"/>';}
 h+='<rect x="'+(X0+.5)+'" y="'+(T+.5)+'" width="'+(W*U)+'" height="60" fill="none" stroke="#000" stroke-width="1.5"/>';
 tok(parts[2]).forEach(function(t){var k=t[0],ab=t.slice(1).split('-').map(Number);h+='<rect x="'+(X0+ab[0]*U)+'" y="'+(T+15*L[k]-2.5)+'" width="'+((ab[1]-ab[0])*U)+'" height="6" fill="'+C[k]+'"/>';});
 tok(parts[0]).forEach(function(t){var k=t[0];t.slice(1).split(',').forEach(function(p){h+='<circle cx="'+(X0+Number(p)*U+.5)+'" cy="'+(T+15*L[k]+.5)+'" r="5" fill="'+C[k]+'" stroke="#000" stroke-width=".8"/>';});});
 tok(parts[1]).forEach(function(t){var k=t[0].toLowerCase();t.slice(1).split(',').forEach(function(p){h+=star(X0+Number(p)*U+.5,T+15*L[k]+.5,C[k]);});});
 h+=over;
});
document.getElementById('shapes').innerHTML=h;
</script>
</body></html>
